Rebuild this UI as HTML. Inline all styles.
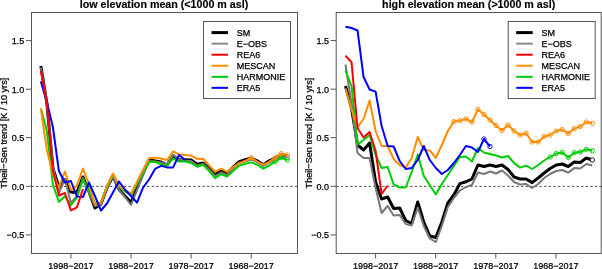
<!DOCTYPE html>
<html><head><meta charset="utf-8"><style>
html,body{margin:0;padding:0;background:#fff;}
svg{display:block;will-change:transform;}
.t{font-family:"Liberation Sans",sans-serif;font-size:9px;fill:#000;stroke:#000;stroke-width:0.25px;}
.ti{font-family:"Liberation Sans",sans-serif;font-size:10.7px;font-weight:bold;fill:#000;stroke:#000;stroke-width:0.15px;}
</style></head><body>
<svg width="602" height="269" viewBox="0 0 602 269">
<defs><clipPath id="cl"><rect x="32" y="13" width="265" height="240"/></clipPath><clipPath id="cr"><rect x="337" y="13" width="264" height="240"/></clipPath></defs>
<rect x="31.5" y="12.5" width="266" height="241" fill="none" stroke="#555" stroke-width="1"/>
<line x1="26" x2="31.5" y1="40.6" y2="40.6" stroke="#555" stroke-width="1"/>
<text x="24.3" y="43.9" text-anchor="end" class="t">1.5</text>
<line x1="26" x2="31.5" y1="89.2" y2="89.2" stroke="#555" stroke-width="1"/>
<text x="24.3" y="92.5" text-anchor="end" class="t">1.0</text>
<line x1="26" x2="31.5" y1="137.7" y2="137.7" stroke="#555" stroke-width="1"/>
<text x="24.3" y="141.0" text-anchor="end" class="t">0.5</text>
<line x1="26" x2="31.5" y1="186.3" y2="186.3" stroke="#555" stroke-width="1"/>
<text x="24.3" y="189.6" text-anchor="end" class="t">0.0</text>
<line x1="26" x2="31.5" y1="234.9" y2="234.9" stroke="#555" stroke-width="1"/>
<text x="24.3" y="238.2" text-anchor="end" class="t">−0.5</text>
<line x1="70.9" x2="70.9" y1="253.5" y2="258.5" stroke="#555" stroke-width="1"/>
<text x="70.9" y="268.5" text-anchor="middle" class="t">1998−2017</text>
<line x1="131.0" x2="131.0" y1="253.5" y2="258.5" stroke="#555" stroke-width="1"/>
<text x="131.0" y="268.5" text-anchor="middle" class="t">1988−2017</text>
<line x1="191.1" x2="191.1" y1="253.5" y2="258.5" stroke="#555" stroke-width="1"/>
<text x="191.1" y="268.5" text-anchor="middle" class="t">1978−2017</text>
<line x1="251.2" x2="251.2" y1="253.5" y2="258.5" stroke="#555" stroke-width="1"/>
<text x="251.2" y="268.5" text-anchor="middle" class="t">1968−2017</text>
<line x1="31.5" x2="297" y1="186.4" y2="186.4" stroke="#505050" stroke-width="1" stroke-dasharray="2.35,2.27"/>
<text x="164.0" y="8" text-anchor="middle" class="ti">low elevation mean (&lt;1000 m asl)</text>
<text transform="translate(7.3,133.1) rotate(-90)" text-anchor="middle" class="t" style="font-size:9.12px">Theil−Sen trend [K / 10 yrs]</text>
<rect x="336.2" y="12.5" width="265" height="241" fill="none" stroke="#555" stroke-width="1"/>
<line x1="330.7" x2="336.2" y1="40.6" y2="40.6" stroke="#555" stroke-width="1"/>
<text x="329.0" y="43.9" text-anchor="end" class="t">1.5</text>
<line x1="330.7" x2="336.2" y1="89.2" y2="89.2" stroke="#555" stroke-width="1"/>
<text x="329.0" y="92.5" text-anchor="end" class="t">1.0</text>
<line x1="330.7" x2="336.2" y1="137.7" y2="137.7" stroke="#555" stroke-width="1"/>
<text x="329.0" y="141.0" text-anchor="end" class="t">0.5</text>
<line x1="330.7" x2="336.2" y1="186.3" y2="186.3" stroke="#555" stroke-width="1"/>
<text x="329.0" y="189.6" text-anchor="end" class="t">0.0</text>
<line x1="330.7" x2="336.2" y1="234.9" y2="234.9" stroke="#555" stroke-width="1"/>
<text x="329.0" y="238.2" text-anchor="end" class="t">−0.5</text>
<line x1="375.6" x2="375.6" y1="253.5" y2="258.5" stroke="#555" stroke-width="1"/>
<text x="375.6" y="268.5" text-anchor="middle" class="t">1998−2017</text>
<line x1="435.7" x2="435.7" y1="253.5" y2="258.5" stroke="#555" stroke-width="1"/>
<text x="435.7" y="268.5" text-anchor="middle" class="t">1988−2017</text>
<line x1="495.8" x2="495.8" y1="253.5" y2="258.5" stroke="#555" stroke-width="1"/>
<text x="495.8" y="268.5" text-anchor="middle" class="t">1978−2017</text>
<line x1="555.9" x2="555.9" y1="253.5" y2="258.5" stroke="#555" stroke-width="1"/>
<text x="555.9" y="268.5" text-anchor="middle" class="t">1968−2017</text>
<line x1="336.2" x2="601.7" y1="186.4" y2="186.4" stroke="#505050" stroke-width="1" stroke-dasharray="2.35,2.27"/>
<text x="468.7" y="8" text-anchor="middle" class="ti">high elevation mean (&gt;1000 m asl)</text>
<text transform="translate(312.0,133.1) rotate(-90)" text-anchor="middle" class="t" style="font-size:9.12px">Theil−Sen trend [K / 10 yrs]</text>
<g clip-path="url(#cl)">
<polyline points="40.85,66.00 46.86,103.00 52.87,168.00 58.88,187.00 64.89,179.50 70.90,192.00 76.91,192.50 82.92,177.00 88.93,191.50 94.94,208.00 100.95,204.00 106.96,188.00 112.97,176.00 118.98,189.50 124.99,196.00 131.00,202.50 137.01,188.00 143.02,173.20 149.03,160.00 155.04,161.00 161.05,162.00 167.06,165.00 173.07,155.80 179.08,159.50 185.09,159.70 191.10,160.00 197.11,164.20 203.12,163.10 209.13,168.70 215.14,174.20 221.15,171.00 227.16,173.40 233.17,167.00 239.18,161.60 245.19,159.80 251.20,158.30 257.21,160.80 263.22,164.70 269.23,160.80 275.24,158.00 281.25,154.50 287.26,155.50" fill="none" stroke="#000000" stroke-width="3" stroke-linejoin="round" stroke-linecap="butt"/>
<polyline points="40.85,67.50 46.86,102.00 52.87,166.00 58.88,193.00 64.89,179.00 70.90,203.00 76.91,196.00 82.92,178.00 88.93,192.50 94.94,206.00 100.95,204.50 106.96,189.00 112.97,176.00 118.98,190.00 124.99,197.00 131.00,205.00 137.01,190.00 143.02,175.00 149.03,161.00 155.04,161.50 161.05,162.50 167.06,164.50 173.07,154.80 179.08,159.30 185.09,160.50 191.10,161.00 197.11,165.50 203.12,164.00 209.13,169.50 215.14,176.00 221.15,172.50 227.16,175.00 233.17,168.50 239.18,163.00 245.19,161.50 251.20,159.50 257.21,162.00 263.22,166.00 269.23,162.50 275.24,159.50 281.25,156.00 287.26,157.50" fill="none" stroke="#777777" stroke-width="2" stroke-linejoin="round" stroke-linecap="butt"/>
<circle cx="281.25" cy="156.00" r="2.2" fill="none" stroke="#777777" stroke-width="0.9"/>
<circle cx="287.26" cy="157.50" r="2.2" fill="none" stroke="#777777" stroke-width="0.9"/>
<polyline points="40.85,108.50 46.86,131.00 52.87,184.50 58.88,202.00 64.89,196.20 70.90,205.20 76.91,197.70 82.92,179.50 88.93,190.00 94.94,203.00 100.95,203.00 106.96,187.00 112.97,174.00 118.98,186.00 124.99,191.40 131.00,195.20 137.01,184.00 143.02,172.00 149.03,162.20 155.04,161.70 161.05,164.50 167.06,166.00 173.07,158.40 179.08,161.50 185.09,161.50 191.10,163.00 197.11,166.70 203.12,164.80 209.13,171.00 215.14,178.10 221.15,174.20 227.16,176.60 233.17,171.00 239.18,165.50 245.19,163.90 251.20,162.40 257.21,164.70 263.22,168.70 269.23,165.50 275.24,161.60 281.25,157.60 287.26,160.00" fill="none" stroke="#00cd00" stroke-width="2" stroke-linejoin="round" stroke-linecap="butt"/>
<circle cx="275.24" cy="161.60" r="2.2" fill="none" stroke="#00cd00" stroke-width="0.9"/>
<circle cx="281.25" cy="157.60" r="2.2" fill="none" stroke="#00cd00" stroke-width="0.9"/>
<circle cx="287.26" cy="160.00" r="2.2" fill="none" stroke="#00cd00" stroke-width="0.9"/>
<polyline points="40.85,108.50 46.86,150.00 52.87,174.00 58.88,187.50 64.89,171.50 70.90,190.00 76.91,185.60 82.92,168.50 88.93,184.00 94.94,204.50 100.95,203.00 106.96,186.00 112.97,173.50 118.98,186.00 124.99,190.00 131.00,193.70 137.01,181.90 143.02,170.00 149.03,158.20 155.04,157.70 161.05,158.50 167.06,160.00 173.07,151.30 179.08,154.50 185.09,155.00 191.10,155.60 197.11,158.90 203.12,158.70 209.13,165.50 215.14,171.80 221.15,168.70 227.16,171.80 233.17,167.10 239.18,163.10 245.19,160.80 251.20,157.80 257.21,161.50 263.22,164.90 269.23,161.60 275.24,157.80 281.25,153.60 287.26,155.00" fill="none" stroke="#ff8c00" stroke-width="2" stroke-linejoin="round" stroke-linecap="butt"/>
<circle cx="251.20" cy="157.80" r="2.2" fill="none" stroke="#ff8c00" stroke-width="0.9"/>
<circle cx="275.24" cy="157.80" r="2.2" fill="none" stroke="#ff8c00" stroke-width="0.9"/>
<circle cx="281.25" cy="153.60" r="2.2" fill="none" stroke="#ff8c00" stroke-width="0.9"/>
<circle cx="287.26" cy="155.00" r="2.2" fill="none" stroke="#ff8c00" stroke-width="0.9"/>
<polyline points="40.85,81.40 46.86,102.00 52.87,127.00 58.88,171.00 64.89,182.50 70.90,181.00 76.91,196.50 82.92,197.00 88.93,182.50 94.94,196.00 100.95,210.50 106.96,203.50 112.97,192.50 118.98,181.60 124.99,189.50 131.00,196.00 137.01,202.70 143.02,187.70 149.03,179.50 155.04,168.90 161.05,165.90 167.06,167.40 173.07,167.40 179.08,155.00 185.09,160.00" fill="none" stroke="#0000ff" stroke-width="2" stroke-linejoin="round" stroke-linecap="butt"/>
<polyline points="40.85,70.50 46.86,103.00 52.87,170.00 58.88,195.50 64.89,193.00 70.90,210.40 76.91,207.40 82.92,189.00" fill="none" stroke="#ff0000" stroke-width="2" stroke-linejoin="round" stroke-linecap="butt"/>
</g>
<g clip-path="url(#cr)">
<polyline points="345.50,86.00 351.52,108.00 357.54,145.00 363.56,150.00 369.58,143.00 375.60,182.00 381.62,199.00 387.64,197.00 393.66,208.50 399.68,208.00 405.70,220.50 411.72,223.50 417.74,202.00 423.76,222.00 429.78,236.00 435.80,237.50 441.82,222.00 447.84,203.00 453.86,195.00 459.88,183.60 465.90,181.80 471.92,179.00 477.94,165.00 483.96,166.50 489.98,165.00 496.00,166.50 502.02,165.00 508.04,169.50 514.06,177.00 520.08,179.00 526.10,179.00 532.12,182.60 538.14,178.00 544.16,173.00 550.18,168.50 556.20,165.00 562.22,164.00 568.24,166.50 574.26,162.00 580.28,162.50 586.30,158.00 592.32,160.00" fill="none" stroke="#000000" stroke-width="3" stroke-linejoin="round" stroke-linecap="butt"/>
<circle cx="592.32" cy="160.00" r="2.2" fill="#fff" stroke="#000000" stroke-width="0.9"/>
<polyline points="345.50,64.50 351.52,104.00 357.54,153.00 363.56,158.00 369.58,158.00 375.60,188.00 381.62,213.00 387.64,206.00 393.66,215.50 399.68,215.00 405.70,224.00 411.72,225.50 417.74,207.50 423.76,226.00 429.78,238.50 435.80,242.00 441.82,226.00 447.84,207.00 453.86,198.00 459.88,190.50 465.90,187.00 471.92,185.00 477.94,172.50 483.96,174.00 489.98,171.50 496.00,173.50 502.02,170.50 508.04,175.50 514.06,182.00 520.08,184.60 526.10,184.00 532.12,188.00 538.14,184.00 544.16,178.00 550.18,174.00 556.20,171.00 562.22,170.00 568.24,172.60 574.26,168.00 580.28,168.50 586.30,164.00 592.32,165.50" fill="none" stroke="#777777" stroke-width="2" stroke-linejoin="round" stroke-linecap="butt"/>
<polyline points="345.50,70.50 351.52,86.00 357.54,144.50 363.56,140.00 369.58,135.00 375.60,155.00 381.62,168.00 387.64,167.00 393.66,184.50 399.68,187.50 405.70,187.50 411.72,172.00 417.74,154.50 423.76,176.00 429.78,185.00 435.80,194.50 441.82,184.00 447.84,175.00 453.86,166.00 459.88,157.00 465.90,156.50 471.92,161.50 477.94,148.00 483.96,152.50 489.98,154.00 496.00,155.50 502.02,157.50 508.04,156.00 514.06,163.00 520.08,167.60 526.10,165.60 532.12,169.00 538.14,165.00 544.16,160.50 550.18,157.00 556.20,153.50 562.22,152.50 568.24,157.50 574.26,152.70 580.28,152.00 586.30,149.30 592.32,150.80" fill="none" stroke="#00cd00" stroke-width="2" stroke-linejoin="round" stroke-linecap="butt"/>
<circle cx="550.18" cy="157.00" r="2.2" fill="none" stroke="#00cd00" stroke-width="0.9"/>
<circle cx="556.20" cy="153.50" r="2.2" fill="none" stroke="#00cd00" stroke-width="0.9"/>
<circle cx="562.22" cy="152.50" r="2.2" fill="none" stroke="#00cd00" stroke-width="0.9"/>
<circle cx="568.24" cy="157.50" r="2.2" fill="none" stroke="#00cd00" stroke-width="0.9"/>
<circle cx="574.26" cy="152.70" r="2.2" fill="none" stroke="#00cd00" stroke-width="0.9"/>
<circle cx="580.28" cy="152.00" r="2.2" fill="none" stroke="#00cd00" stroke-width="0.9"/>
<circle cx="586.30" cy="149.30" r="2.2" fill="none" stroke="#00cd00" stroke-width="0.9"/>
<circle cx="592.32" cy="150.80" r="2.2" fill="none" stroke="#00cd00" stroke-width="0.9"/>
<polyline points="345.50,88.50 351.52,109.00 357.54,127.00 363.56,119.00 369.58,100.50 375.60,131.00 381.62,146.00 387.64,146.00 393.66,159.00 399.68,165.00 405.70,167.50 411.72,158.00 417.74,137.00 423.76,150.00 429.78,150.50 435.80,158.00 441.82,145.00 447.84,131.00 453.86,121.60 459.88,120.60 465.90,119.00 471.92,122.00 477.94,109.50 483.96,114.50 489.98,120.00 496.00,125.50 502.02,130.50 508.04,125.00 514.06,131.00 520.08,135.00 526.10,133.30 532.12,142.00 538.14,142.00 544.16,136.50 550.18,135.00 556.20,131.00 562.22,129.50 568.24,133.60 574.26,128.60 580.28,126.50 586.30,122.00 592.32,123.30" fill="none" stroke="#ff8c00" stroke-width="2" stroke-linejoin="round" stroke-linecap="butt"/>
<circle cx="453.86" cy="121.60" r="2.2" fill="none" stroke="#ff8c00" stroke-width="0.9"/>
<circle cx="459.88" cy="120.60" r="2.2" fill="none" stroke="#ff8c00" stroke-width="0.9"/>
<circle cx="465.90" cy="119.00" r="2.2" fill="none" stroke="#ff8c00" stroke-width="0.9"/>
<circle cx="471.92" cy="122.00" r="2.2" fill="none" stroke="#ff8c00" stroke-width="0.9"/>
<circle cx="477.94" cy="109.50" r="2.2" fill="none" stroke="#ff8c00" stroke-width="0.9"/>
<circle cx="483.96" cy="114.50" r="2.2" fill="none" stroke="#ff8c00" stroke-width="0.9"/>
<circle cx="489.98" cy="120.00" r="2.2" fill="none" stroke="#ff8c00" stroke-width="0.9"/>
<circle cx="496.00" cy="125.50" r="2.2" fill="none" stroke="#ff8c00" stroke-width="0.9"/>
<circle cx="502.02" cy="130.50" r="2.2" fill="none" stroke="#ff8c00" stroke-width="0.9"/>
<circle cx="508.04" cy="125.00" r="2.2" fill="none" stroke="#ff8c00" stroke-width="0.9"/>
<circle cx="514.06" cy="131.00" r="2.2" fill="none" stroke="#ff8c00" stroke-width="0.9"/>
<circle cx="520.08" cy="135.00" r="2.2" fill="none" stroke="#ff8c00" stroke-width="0.9"/>
<circle cx="526.10" cy="133.30" r="2.2" fill="none" stroke="#ff8c00" stroke-width="0.9"/>
<circle cx="532.12" cy="142.00" r="2.2" fill="none" stroke="#ff8c00" stroke-width="0.9"/>
<circle cx="538.14" cy="142.00" r="2.2" fill="none" stroke="#ff8c00" stroke-width="0.9"/>
<circle cx="544.16" cy="136.50" r="2.2" fill="none" stroke="#ff8c00" stroke-width="0.9"/>
<circle cx="550.18" cy="135.00" r="2.2" fill="none" stroke="#ff8c00" stroke-width="0.9"/>
<circle cx="556.20" cy="131.00" r="2.2" fill="none" stroke="#ff8c00" stroke-width="0.9"/>
<circle cx="562.22" cy="129.50" r="2.2" fill="none" stroke="#ff8c00" stroke-width="0.9"/>
<circle cx="568.24" cy="133.60" r="2.2" fill="none" stroke="#ff8c00" stroke-width="0.9"/>
<circle cx="574.26" cy="128.60" r="2.2" fill="none" stroke="#ff8c00" stroke-width="0.9"/>
<circle cx="580.28" cy="126.50" r="2.2" fill="none" stroke="#ff8c00" stroke-width="0.9"/>
<circle cx="586.30" cy="122.00" r="2.2" fill="none" stroke="#ff8c00" stroke-width="0.9"/>
<circle cx="592.32" cy="123.30" r="2.2" fill="none" stroke="#ff8c00" stroke-width="0.9"/>
<polyline points="345.50,26.80 351.52,28.00 357.54,30.50 363.56,77.00 369.58,89.50 375.60,91.60 381.62,126.00 387.64,146.00 393.66,146.50 399.68,161.00 405.70,169.00 411.72,168.00 417.74,160.00 423.76,146.00 429.78,160.00 435.80,168.00 441.82,174.00 447.84,170.00 453.86,163.00 459.88,155.00 465.90,146.00 471.92,147.50 477.94,152.00 483.96,139.00 489.98,146.50" fill="none" stroke="#0000ff" stroke-width="2" stroke-linejoin="round" stroke-linecap="butt"/>
<circle cx="483.96" cy="139.00" r="2.2" fill="none" stroke="#0000ff" stroke-width="0.9"/>
<circle cx="489.98" cy="146.50" r="2.2" fill="none" stroke="#0000ff" stroke-width="0.9"/>
<polyline points="345.50,55.80 351.52,62.20 357.54,128.00 363.56,137.50 369.58,132.00 375.60,151.00 381.62,194.00 387.64,185.50" fill="none" stroke="#ff0000" stroke-width="2" stroke-linejoin="round" stroke-linecap="butt"/>
</g>
<rect x="203.5" y="21.5" width="87" height="77" fill="#fff" stroke="#555" stroke-width="1"/>
<line x1="211.5" x2="228" y1="32.60" y2="32.60" stroke="#000" stroke-width="3"/>
<text x="236.8" y="35.80" class="t">SM</text>
<line x1="211.5" x2="228" y1="43.65" y2="43.65" stroke="#888" stroke-width="2"/>
<text x="236.8" y="46.85" class="t">E−OBS</text>
<line x1="211.5" x2="228" y1="54.70" y2="54.70" stroke="#f00" stroke-width="2"/>
<text x="236.8" y="57.90" class="t">REA6</text>
<line x1="211.5" x2="228" y1="65.75" y2="65.75" stroke="#ff8c00" stroke-width="2"/>
<text x="236.8" y="68.95" class="t">MESCAN</text>
<line x1="211.5" x2="228" y1="76.80" y2="76.80" stroke="#0c0" stroke-width="2"/>
<text x="236.8" y="80.00" class="t">HARMONIE</text>
<line x1="211.5" x2="228" y1="87.85" y2="87.85" stroke="#00f" stroke-width="2"/>
<text x="236.8" y="91.05" class="t">ERA5</text>
<rect x="508.2" y="21.5" width="87" height="77" fill="#fff" stroke="#555" stroke-width="1"/>
<line x1="516.2" x2="532.7" y1="32.60" y2="32.60" stroke="#000" stroke-width="3"/>
<text x="541.5" y="35.80" class="t">SM</text>
<line x1="516.2" x2="532.7" y1="43.65" y2="43.65" stroke="#888" stroke-width="2"/>
<text x="541.5" y="46.85" class="t">E−OBS</text>
<line x1="516.2" x2="532.7" y1="54.70" y2="54.70" stroke="#f00" stroke-width="2"/>
<text x="541.5" y="57.90" class="t">REA6</text>
<line x1="516.2" x2="532.7" y1="65.75" y2="65.75" stroke="#ff8c00" stroke-width="2"/>
<text x="541.5" y="68.95" class="t">MESCAN</text>
<line x1="516.2" x2="532.7" y1="76.80" y2="76.80" stroke="#0c0" stroke-width="2"/>
<text x="541.5" y="80.00" class="t">HARMONIE</text>
<line x1="516.2" x2="532.7" y1="87.85" y2="87.85" stroke="#00f" stroke-width="2"/>
<text x="541.5" y="91.05" class="t">ERA5</text>
</svg>
</body></html>
